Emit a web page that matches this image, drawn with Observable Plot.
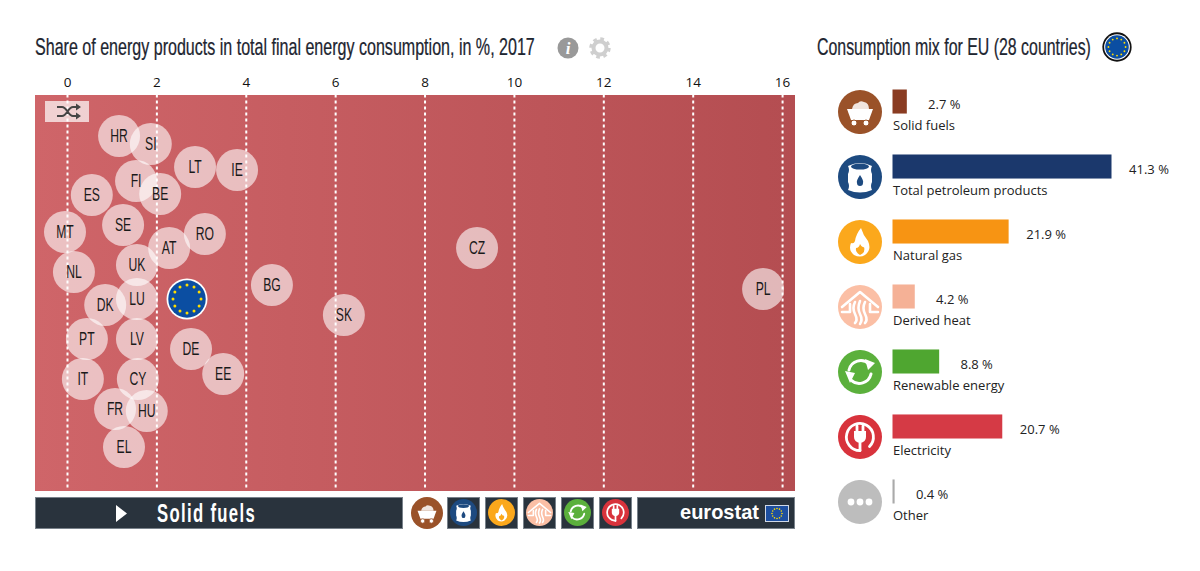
<!DOCTYPE html>
<html>
<head>
<meta charset="utf-8">
<script src="https://cdn.jsdelivr.net/npm/d3@7"></script>
<script src="https://cdn.jsdelivr.net/npm/@observablehq/plot@0.6"></script>
<style>
html,body{margin:0;padding:0;background:#fff;width:1200px;height:571px;overflow:hidden}
#page{position:relative;width:1200px;height:571px}
#page>*{position:absolute}
.dark{background:#29333d;box-shadow:0 0 0 1px #79828b inset}
.cond{font-family:"Liberation Sans",sans-serif}
</style>
</head>
<body>
<div id="page"></div>
<script>
// ---- swarm panel data ----
const countries = ["HR","SI","LT","IE","FI","BE","ES","SE","MT","RO","AT","CZ","UK","NL","BG","PL","LU","DK","SK","PT","LV","DE","EE","IT","CY","FR","HU","EL"];
const shares    = [1.21,1.92,2.91,3.85,1.59,2.13,0.60,1.30,0.00,3.13,2.33,9.22,1.61,0.20,4.63,15.62,1.61,0.90,6.24,0.49,1.61,2.82,3.54,0.40,1.63,1.12,1.83,1.32];
const lanes     = [41,49,72,75,86,99,100,130,137,139,153,153,170,177,190,194,204,210,220,244,244,254,279,284,284,314,316,352];
const euShare = 2.73, euLane = 204;
const xTicks = [0,2,4,6,8,10,12,14,16];

// ---- mix panel data ----
const products = ["Solid fuels","Total petroleum products","Natural gas","Derived heat","Renewable energy","Electricity","Other"];
const mix      = [2.7,41.3,21.9,4.2,8.8,20.7,0.4];
const barColors  = ["#8a3c22","#1b386c","#f79413","#f5b196","#4fa630","#d53a45","#aaaaaa"];
const iconColors = ["#9a5229","#1d4a80","#fba81c","#fbbfa5","#5bb03c","#d8333c","#bdbdbd"];

// ---- icons ----
const W = `fill="none" stroke="#fff" stroke-linecap="round" stroke-linejoin="round"`;
const glyphs = [
  c => `<path d="M14 19 Q15 13 20 13 Q22 10 26 12 Q31 13 31 19Z" fill="#fff" opacity=".85"/><path d="M9 19H35L31 30H13Z" fill="#fff"/><circle cx="16" cy="33" r="3" fill="#fff" stroke="${c}"/><circle cx="28" cy="33" r="3" fill="#fff" stroke="${c}"/>`,
  c => `<path d="M10 11Q22 5 34 11Q32 15 34 19V27Q32 31 34 35Q22 40 10 35Q12 31 10 27V19Q12 15 10 11Z" fill="#fff"/><ellipse cx="22" cy="11.500" rx="9" ry="3" fill="${c}"/><path d="M22 20Q26 26 25 28A3 3 0 0 1 19 28Q18 26 22 20Z" fill="${c}"/>`,
  c => `<path d="M23 8Q25 15 30 21Q34 30 27 35Q22 38 16 35Q10 30 13 23Q16 24 17 21Q18 14 23 8Z" fill="#fff"/><path d="M22 24Q24 28 26 27Q28 32 22 35Q17 32 18 28Q21 28 22 24Z" fill="${c}"/>`,
  c => `<g ${W} stroke-width="2.600"><path d="M4 22L22 7L40 22"/><path d="M4 27H12V19M40 27H32V19"/><path d="M17 17Q14 23 17 29T17 38M22 16Q19 23 22 29T22 39M27 17Q24 23 27 29T27 38"/></g>`,
  c => `<g ${W} stroke-width="3"><path d="M11 20A12 12 0 0 1 31 14"/><path d="M33 24A12 12 0 0 1 13 30"/></g><path d="M27 9L37 13L30 20Z M7 21L17 23L12 33Z" fill="#fff"/>`,
  c => `<g ${W} stroke-width="2.800"><path d="M22 35.500A13.500 13.500 0 1 1 31.500 31.500"/><path d="M19 11V16M25 11V16M22 27V35.500"/></g><path d="M16 16H28V22Q28 27 22 28Q16 27 16 22Z" fill="#fff"/>`,
  c => `<circle cx="13" cy="22" r="3.400" fill="#fff"/><circle cx="22" cy="22" r="3.400" fill="#fff"/><circle cx="31" cy="22" r="3.400" fill="#fff"/>`
];
const iconSvg = i => `<svg xmlns="http://www.w3.org/2000/svg" width="44" height="44" viewBox="0 0 44 44"><circle cx="22" cy="22" r="22" fill="${iconColors[i]}"/>${glyphs[i](iconColors[i])}</svg>`;
const uri = s => "data:image/svg+xml," + encodeURIComponent(s);
const stars = (cx,cy,R,sz) => d3.range(12).map(i=>{const a=i*Math.PI/6;return `<circle cx="${cx+R*Math.sin(a)}" cy="${cy-R*Math.cos(a)}" r="${sz}" fill="#ffdd00"/>`}).join("");
const euDot = uri(`<svg xmlns="http://www.w3.org/2000/svg" width="84" height="84" viewBox="0 0 84 84"><circle cx="42" cy="42" r="41" fill="#fff"/><circle cx="42" cy="42" r="37.500" fill="#0b4ea2"/>${stars(42,42,28,3)}</svg>`);
const euDotRing = uri(`<svg xmlns="http://www.w3.org/2000/svg" width="84" height="84" viewBox="0 0 84 84"><circle cx="42" cy="42" r="41" fill="#111"/><circle cx="42" cy="42" r="36" fill="#fff"/><circle cx="42" cy="42" r="33" fill="#0b4ea2"/>${stars(42,42,24,2.6)}</svg>`);

const page = document.getElementById("page");
function add(html){const t=document.createElement("template");t.innerHTML=html.trim();const n=t.content.firstChild;page.appendChild(n);return n;}
function place(node,l,t){node.style.left=l+"px";node.style.top=t+"px";page.appendChild(node);}
// squeeze a real text horizontally to the width it has in the reference
function fitted(left,top,w,h,x,y,width,attrs,label){
  const svg = add(`<svg style="left:${left}px;top:${top}px;overflow:visible" width="${w}" height="${h}"><text ${attrs}>${label}</text></svg>`);
  const t = svg.querySelector("text");
  t.setAttribute("transform",`translate(${x},${y}) scale(${width/t.getComputedTextLength()},1)`);
  return svg;
}

// ---- swarm panel ----
const swarm = countries.map((id,i)=>({id,share:shares[i],lane:lanes[i]}));
const gradient = () => {
  const defs = d3.create("svg:defs");
  const g = defs.append("linearGradient").attr("id","bandGrad");
  g.append("stop").attr("offset","0").attr("stop-color","#cf6569");
  g.append("stop").attr("offset","1").attr("stop-color","#b44d51");
  return defs.node();
};
const main = Plot.plot({
  width:800, height:432, marginTop:35.5, marginBottom:0.5, marginLeft:35.5, marginRight:4.5,
  style:{background:"transparent",fontFamily:"'Open Sans',sans-serif",overflow:"visible"},
  x:{domain:[-0.727,16.278],axis:null},
  y:{domain:[0,396],reverse:true,axis:null},
  marks:[
    gradient,
    Plot.frame({fill:"url(#bandGrad)",stroke:null}),
    Plot.ruleX(xTicks,{stroke:"#fff",strokeWidth:2,strokeDasharray:"3,3",y1:0,y2:394}),
    Plot.axisX(xTicks,{anchor:"top",tickSize:0,tickPadding:8,fontSize:13.5,fontFamily:"'Open Sans',sans-serif",fill:"#111",label:null}),
    Plot.dot(swarm,{x:"share",y:"lane",r:21,fill:"#fff",fillOpacity:0.6,stroke:null,dx:-2.5}),
    Plot.image([{share:euShare,lane:euLane}],{x:"share",y:"lane",src:()=>euDot,width:42,height:42,dx:-2.5}),
    Plot.text(swarm,{x:"share",y:"lane",text:"id",className:"cc",fontSize:19,fontFamily:"'Liberation Sans',sans-serif",fill:"#1a1a1a",dx:-2.5})
  ]
});
place(main,-1,59);
main.querySelectorAll(".cc text").forEach(t=>t.setAttribute("transform",t.getAttribute("transform")+" scale(.64,1)"));

// ---- mix panel ----
const mixRows = products.map((name,i)=>({name,value:mix[i],color:barColors[i],icon:uri(iconSvg(i))}));
const right = Plot.plot({
  width:400, height:460, marginLeft:93.5, marginRight:87.5, marginTop:30.5, marginBottom:15.5,
  style:{background:"transparent",fontFamily:"'Open Sans',sans-serif",overflow:"visible"},
  x:{domain:[0,41.3],axis:null},
  y:{domain:products,paddingInner:0.63,paddingOuter:0,round:false,axis:null},
  marks:[
    Plot.barX(mixRows,{x:"value",y:"name",fill:"color"}),
    Plot.text(mixRows,{x:"value",y:"name",text:d=>d.value.toFixed(1)+" %",dx:37,dy:3,fontSize:13,fill:"#222"}),
    Plot.text(mixRows,{frameAnchor:"left",y:"name",text:"name",textAnchor:"start",dy:24,fontSize:13,fill:"#222"}),
    Plot.image(mixRows,{frameAnchor:"left",y:"name",src:"icon",width:44,height:44,dx:-33,dy:10})
  ]
});
place(right,799,59);

// ---- titles ----
const titleAttrs = `class="cond" font-size="23" fill="#1d2530" stroke="#1d2530" stroke-width=".25"`;
fitted(0,30,800,36,35,24.5,500,titleAttrs,"Share of energy products in total final energy consumption, in %, 2017");
fitted(800,30,300,36,17,24.5,274,titleAttrs,"Consumption mix for EU (28 countries)");
add(`<img src="${euDotRing}" style="left:1102px;top:32px;width:30px;height:30px">`);
// info and settings icons
add(`<svg style="left:556px;top:36px" width="24" height="24"><circle cx="12" cy="12" r="10.500" fill="#999"/><text x="12" y="17.500" text-anchor="middle" font-family="Liberation Serif,serif" font-style="italic" font-weight="bold" font-size="17" fill="#fff">i</text></svg>`);
add(`<svg style="left:588px;top:36px" width="24" height="24"><g fill="none" stroke="#cfcfcf"><circle cx="12" cy="12" r="6.500" stroke-width="4"/><circle cx="12" cy="12" r="9" stroke-width="3.400" stroke-dasharray="3.6 3.47"/></g></svg>`);
// shuffle button
add(`<svg style="left:45px;top:101px" width="44" height="21"><rect width="44" height="21" fill="#fff" fill-opacity=".7"/><g fill="none" stroke="#454545" stroke-width="2"><path d="M12 6H17C22 6 23 15 28 15H32M12 15H17C22 15 23 6 28 6H32"/></g><path d="M31 2.500L36 6L31 9.500ZM31 11.500L36 15L31 18.500Z" fill="#454545"/></svg>`);

// ---- bottom control bar ----
add(`<div class="dark" style="left:35px;top:497px;width:368px;height:32px"></div>`);
add(`<svg style="left:116px;top:505px" width="12" height="18"><path d="M0 0L11 8.500L0 17Z" fill="#fff"/></svg>`);
fitted(150,497,120,32,7,24.5,99,`class="cond" font-weight="bold" font-size="25" letter-spacing="2" fill="#fff"`,"Solid fuels");
add(`<img src="${uri(iconSvg(0))}" style="left:411px;top:497px;width:32px;height:32px">`);
[447,485,523,561,599].forEach((l,k)=>{
  add(`<div class="dark" style="left:${l}px;top:497px;width:33px;height:32px"></div>`);
  add(`<img src="${uri(iconSvg(k+1))}" style="left:${l+3}px;top:499px;width:27px;height:27px">`);
});
add(`<div class="dark" style="left:637px;top:497px;width:158px;height:32px"></div>`);
fitted(637,497,158,32,43,22,79,`font-family="Liberation Sans,sans-serif" font-weight="bold" font-size="20" fill="#fff"`,"eurostat");
add(`<svg style="left:637px;top:497px" width="158" height="32"><rect x="128.500" y="8.500" width="23" height="16" fill="#1d4fa0" stroke="#cfd8e6"/>${stars(140,16.5,5,0.8)}</svg>`);
</script>
</body>
</html>
